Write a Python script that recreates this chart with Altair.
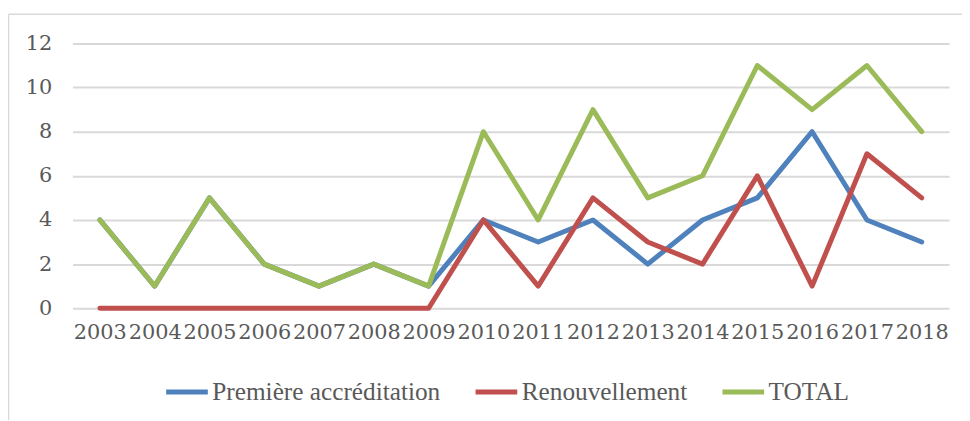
import altair as alt
import pandas as pd

years = [str(y) for y in range(2003, 2019)]
premiere = [4, 1, 5, 2, 1, 2, 1, 4, 3, 4, 2, 4, 5, 8, 4, 3]
renouvellement = [0, 0, 0, 0, 0, 0, 0, 4, 1, 5, 3, 2, 6, 1, 7, 5]
total = [4, 1, 5, 2, 1, 2, 1, 8, 4, 9, 5, 6, 11, 9, 11, 8]

series_names = ["Première accréditation", "Renouvellement", "TOTAL"]
series_colors = ["#4f81bd", "#c0504d", "#9bbb59"]

rows = []
for name, vals in zip(series_names, [premiere, renouvellement, total]):
    for y, v in zip(years, vals):
        rows.append({"Année": y, "Valeur": v, "Série": name})
df = pd.DataFrame(rows)

FONT = "DejaVu Serif"
TXT = "#595959"
GRID = "#d9d9d9"

lines = alt.Chart(df).mark_line(strokeWidth=5, strokeCap="round", strokeJoin="round").encode(
    x=alt.X("Année:N", sort=years, scale=alt.Scale(type="point", padding=0.5),
            axis=alt.Axis(title=None, labelAngle=0, ticks=False, domain=False, grid=False,
                          labelFont=FONT, labelFontSize=21, labelColor=TXT, labelPadding=14,
                          labelOverlap=False)),
    y=alt.Y("Valeur:Q", scale=alt.Scale(domain=[0, 12], nice=False),
            axis=alt.Axis(title=None, values=[0, 2, 4, 6, 8, 10, 12], ticks=False, domain=False,
                          grid=True, gridColor=GRID, gridWidth=2,
                          labelFont=FONT, labelFontSize=21, labelColor=TXT, labelPadding=21)),
    color=alt.Color("Série:N", sort=series_names,
                    scale=alt.Scale(domain=series_names, range=series_colors),
                    legend=alt.Legend(title=None, orient="none", direction="horizontal",
                                      legendX=92, legendY=328,
                                      symbolType="stroke", symbolSize=1764, symbolStrokeWidth=5,
                                      labelFont="Liberation Serif", labelFontSize=25.5, labelLimit=0,
                                      labelColor=TXT, labelOffset=2, columnPadding=24,
                                      padding=0)),
    order=alt.Order("Année:N"),
)

frame_df = pd.DataFrame({"k": [0]})
frame_top = alt.Chart(frame_df).mark_rule(color=GRID, strokeWidth=1.5).encode(
    x=alt.value(-64.5), x2=alt.value(900), y=alt.value(-29.5))
frame_left = alt.Chart(frame_df).mark_rule(color=GRID, strokeWidth=1.5).encode(
    x=alt.value(-64.5), y=alt.value(-29.5), y2=alt.value(380))

chart = alt.layer(frame_top, frame_left, lines).properties(
    width=884, height=267,
    autosize=alt.AutoSizeParams(type="none"),
    padding={"left": 65, "top": 34, "right": 13, "bottom": 112},
).configure_view(stroke=None)

chart.save("out.html", embed_options={"renderer": "svg", "actions": False})
